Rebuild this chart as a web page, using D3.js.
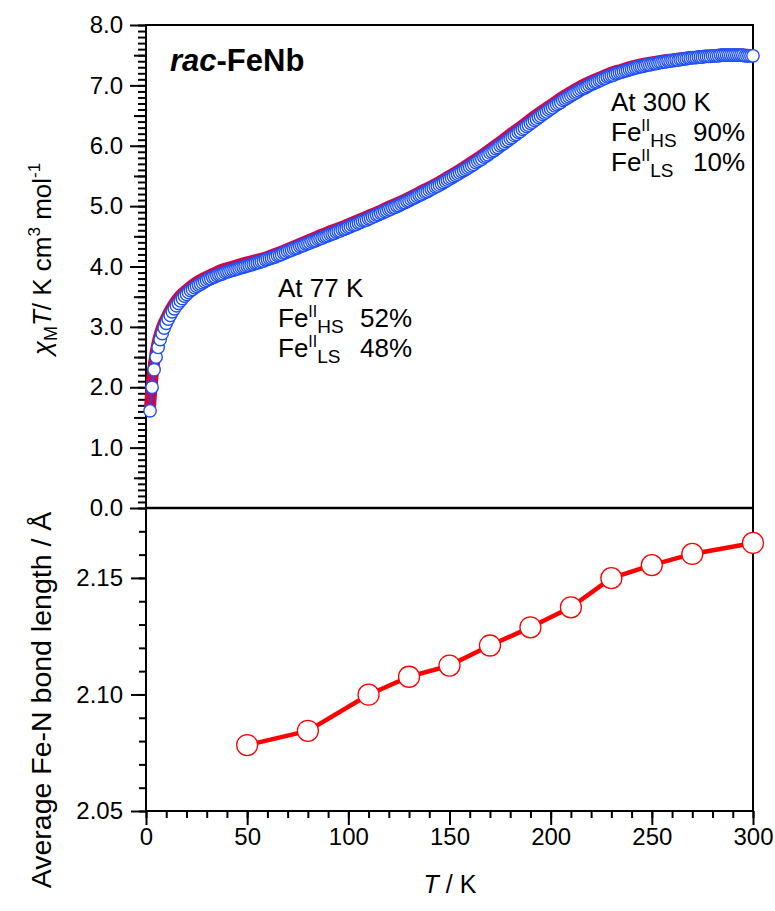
<!DOCTYPE html>
<html>
<head>
<meta charset="utf-8">
<script src="https://cdn.jsdelivr.net/npm/d3@7"></script>
<style>
  body { margin: 0; background: #fff; }
  svg { display: block; }
  text { font-family: "Liberation Sans", Arial, Helvetica, sans-serif; fill: #000; }
</style>
</head>
<body>
<svg id="chart" width="775" height="911"></svg>
<script>
// ---- chi_M T sweep, 1 K steps from 2 K to 300 K (cm3 K mol-1) ----
const chiTemps = d3.range(2, 301);
const chiTHeating = [
  1.61, 2.00, 2.29, 2.50, 2.66, 2.79, 2.89, 2.98, 3.06,
  3.13, 3.19, 3.25, 3.30, 3.35, 3.39, 3.43, 3.47, 3.51, 3.54,
  3.57, 3.60, 3.62, 3.65, 3.67, 3.69, 3.71, 3.73, 3.75, 3.77,
  3.79, 3.80, 3.82, 3.83, 3.85, 3.86, 3.87, 3.88, 3.90, 3.91,
  3.92, 3.93, 3.94, 3.95, 3.96, 3.97, 3.98, 3.99, 4.00, 4.01,
  4.02, 4.03, 4.04, 4.05, 4.06, 4.07, 4.08, 4.09, 4.11, 4.12,
  4.13, 4.14, 4.15, 4.16, 4.18, 4.19, 4.20, 4.22, 4.23, 4.25,
  4.26, 4.27, 4.29, 4.30, 4.31, 4.33, 4.34, 4.35, 4.37, 4.38,
  4.39, 4.41, 4.42, 4.43, 4.45, 4.46, 4.47, 4.49, 4.50, 4.51,
  4.53, 4.54, 4.55, 4.57, 4.58, 4.59, 4.61, 4.62, 4.63, 4.65,
  4.66, 4.68, 4.69, 4.70, 4.72, 4.73, 4.75, 4.76, 4.77, 4.79,
  4.80, 4.82, 4.83, 4.85, 4.86, 4.88, 4.89, 4.91, 4.92, 4.94,
  4.95, 4.97, 4.98, 5.00, 5.01, 5.03, 5.05, 5.06, 5.08, 5.09,
  5.11, 5.13, 5.14, 5.16, 5.18, 5.19, 5.21, 5.23, 5.24, 5.26,
  5.28, 5.30, 5.32, 5.33, 5.35, 5.37, 5.39, 5.41, 5.43, 5.45,
  5.47, 5.49, 5.51, 5.53, 5.55, 5.57, 5.59, 5.61, 5.63, 5.65,
  5.67, 5.69, 5.72, 5.74, 5.76, 5.78, 5.81, 5.83, 5.85, 5.88,
  5.90, 5.92, 5.95, 5.97, 6.00, 6.02, 6.04, 6.07, 6.09, 6.12,
  6.14, 6.17, 6.19, 6.22, 6.24, 6.27, 6.29, 6.32, 6.34, 6.37,
  6.39, 6.42, 6.44, 6.47, 6.49, 6.52, 6.54, 6.56, 6.59, 6.61,
  6.63, 6.66, 6.68, 6.70, 6.72, 6.75, 6.77, 6.79, 6.81, 6.83,
  6.85, 6.87, 6.89, 6.91, 6.93, 6.95, 6.96, 6.98, 7.00, 7.02,
  7.03, 7.05, 7.06, 7.08, 7.09, 7.11, 7.12, 7.14, 7.15, 7.16,
  7.17, 7.19, 7.20, 7.21, 7.22, 7.23, 7.24, 7.25, 7.26, 7.27,
  7.28, 7.29, 7.30, 7.31, 7.31, 7.32, 7.33, 7.34, 7.34, 7.35,
  7.36, 7.36, 7.37, 7.38, 7.38, 7.39, 7.39, 7.40, 7.40, 7.41,
  7.41, 7.42, 7.42, 7.43, 7.43, 7.44, 7.44, 7.45, 7.45, 7.46,
  7.46, 7.46, 7.47, 7.47, 7.47, 7.48, 7.48, 7.48, 7.48, 7.49,
  7.49, 7.49, 7.49, 7.50, 7.50, 7.50, 7.50, 7.50, 7.50, 7.50,
  7.50, 7.50, 7.50, 7.50, 7.50, 7.49, 7.49, 7.49, 7.49, 7.49
];

// second sweep (drawn as a band underneath)
const coolTemps = [2, 3, 4, 5, 6, 7, 8, 9, 10, 12, 14, 16, 18, 20, 25, 30, 35, 40, 45, 50,
  55, 60, 65, 70, 75, 80, 85, 90, 95, 100, 105, 110, 115, 120, 125, 130, 135, 140, 145, 150,
  155, 160, 165, 170, 175, 180, 185, 190, 195, 200, 205, 210, 215, 220, 225, 230, 235, 240,
  245, 250, 255, 260, 265, 270, 275, 280, 285, 290, 295, 300];
const chiTCooling = [1.68, 2.10, 2.40, 2.62, 2.78, 2.90, 3.00, 3.08, 3.15, 3.28, 3.39, 3.48, 3.55, 3.61, 3.74, 3.83, 3.91, 3.97, 4.02, 4.07,
  4.11, 4.16, 4.22, 4.29, 4.36, 4.43, 4.50, 4.57, 4.63, 4.70, 4.77, 4.84, 4.91, 4.99, 5.06, 5.14, 5.23, 5.31, 5.40, 5.50,
  5.60, 5.71, 5.82, 5.94, 6.06, 6.19, 6.31, 6.44, 6.56, 6.67, 6.79, 6.89, 6.99, 7.07, 7.14, 7.21, 7.26, 7.31,
  7.35, 7.38, 7.41, 7.43, 7.45, 7.47, 7.48, 7.50, 7.51, 7.51, 7.51, 7.50];

// ---- average Fe-N bond length (Å) from crystal structures ----
const bondTemps = [50, 80, 110, 130, 150, 170, 190, 210, 230, 250, 270, 300];
const bondLengths = [2.0783, 2.0844, 2.0999, 2.1076, 2.1124, 2.1210, 2.1288, 2.1374, 2.1499, 2.1555, 2.1603, 2.1650];

// ---- axis ticks ----
const xTicks = [0, 50, 100, 150, 200, 250, 300];
const chiTicks = [0, 1, 2, 3, 4, 5, 6, 7, 8];
const bondTicks = [2.05, 2.10, 2.15];

const svg = d3.select("#chart");
const plotL = 146, plotR = 753, plotT = 25, plotMid = 508, plotB = 811;

const x = d3.scaleLinear().domain([0, 300]).range([plotL, plotR]);
const yChi = d3.scaleLinear().domain([0, 8]).range([plotMid, plotT]);
const yBond = d3.scaleLinear().domain([2.05, 2.18]).range([plotB, plotMid]);

const blue = "#1e50fa", crimson = "#cc0a4a", red = "#ff0000";

// ---------- axes ----------
function styleAxis(g) {
  g.select(".domain").remove();
  g.selectAll("line").attr("stroke", "#000").attr("stroke-width", 2);
  g.selectAll("text").attr("font-size", 24).attr("fill", "#000")
    .attr("font-family", '"Liberation Sans", Arial, sans-serif');
}

// top panel y axis: minor (0.1), half (0.5) and unit ticks
svg.append("g").attr("transform", `translate(${plotL},0)`)
  .call(d3.axisLeft(yChi).tickValues(d3.range(0, 81).map(i => i / 10)).tickSize(8).tickFormat(""))
  .call(styleAxis);
svg.append("g").attr("transform", `translate(${plotL},0)`)
  .call(d3.axisLeft(yChi).tickValues(d3.range(0, 8).map(i => i + 0.5)).tickSize(12).tickFormat(""))
  .call(styleAxis);
svg.append("g").attr("transform", `translate(${plotL},0)`)
  .call(d3.axisLeft(yChi).tickValues(chiTicks).tickSize(16).tickPadding(7).tickFormat(d3.format(".1f")))
  .call(styleAxis);

// bottom panel y axis
svg.append("g").attr("transform", `translate(${plotL},0)`)
  .call(d3.axisLeft(yBond).tickValues(d3.range(205, 218).map(i => i / 100)).tickSize(7).tickFormat(""))
  .call(styleAxis);
svg.append("g").attr("transform", `translate(${plotL},0)`)
  .call(d3.axisLeft(yBond).tickValues(bondTicks).tickSize(15).tickPadding(8).tickFormat(d3.format(".2f")))
  .call(styleAxis);

// shared x axis
svg.append("g").attr("transform", `translate(0,${plotB})`)
  .call(d3.axisBottom(x).tickValues(d3.range(0, 301, 10)).tickSize(7).tickFormat(""))
  .call(styleAxis);
svg.append("g").attr("transform", `translate(0,${plotB})`)
  .call(d3.axisBottom(x).tickValues(xTicks).tickSize(14).tickPadding(3).tickFormat(d3.format("d")))
  .call(styleAxis);

// frames
const frame = svg.append("g").attr("stroke", "#000").attr("stroke-width", 2).attr("fill", "none");
frame.append("rect").attr("x", plotL).attr("y", plotT).attr("width", plotR - plotL).attr("height", plotB - plotT);
frame.append("line").attr("x1", plotL).attr("x2", plotR).attr("y1", plotMid).attr("y2", plotMid).attr("stroke-width", 2.5);

// ---------- top panel: chi_M T ----------
const chiPanel = svg.append("g");
chiPanel.append("path")
  .datum(coolTemps.map((t, i) => [t, chiTCooling[i]]))
  .attr("fill", "none").attr("stroke", crimson).attr("stroke-width", 12)
  .attr("stroke-linecap", "round").attr("stroke-linejoin", "round")
  .attr("d", d3.line().x(d => x(d[0])).y(d => yChi(d[1])).curve(d3.curveMonotoneX));

const heat = chiTemps.map((t, i) => [t, chiTHeating[i]]);
chiPanel.append("path").datum(heat)
  .attr("fill", "none").attr("stroke", blue).attr("stroke-width", 1.5)
  .attr("d", d3.line().x(d => x(d[0])).y(d => yChi(d[1])));
chiPanel.selectAll("circle").data(heat).join("circle")
  .attr("cx", d => x(d[0])).attr("cy", d => yChi(d[1])).attr("r", 6.2)
  .attr("fill", "#fff").attr("stroke", blue).attr("stroke-width", 1.4);

// ---------- bottom panel: bond length ----------
const bond = bondTemps.map((t, i) => [t, bondLengths[i]]);
const bondPanel = svg.append("g");
bondPanel.append("path").datum(bond)
  .attr("fill", "none").attr("stroke", red).attr("stroke-width", 4.5).attr("stroke-linejoin", "round")
  .attr("d", d3.line().x(d => x(d[0])).y(d => yBond(d[1])));
bondPanel.selectAll("circle").data(bond).join("circle")
  .attr("cx", d => x(d[0])).attr("cy", d => yBond(d[1])).attr("r", 10.5)
  .attr("fill", "#fff").attr("stroke", red).attr("stroke-width", 1.3);

// ---------- labels ----------
// top y title
const t1 = svg.append("text").attr("transform", "translate(51,259) rotate(-90)")
  .attr("text-anchor", "middle").attr("font-size", 26);
t1.append("tspan").attr("font-style", "italic").text("χ");
t1.append("tspan").attr("font-size", 18).attr("dy", 6).text("M");
t1.append("tspan").attr("font-style", "italic").attr("dy", -6).text("T");
t1.append("tspan").text("/ K cm");
t1.append("tspan").attr("font-size", 17).attr("dy", -11).text("3");
t1.append("tspan").attr("dy", 11).text(" mol");
t1.append("tspan").attr("font-size", 17).attr("dy", -11).text("-1");

// bottom y title
svg.append("text").attr("transform", "translate(51,700) rotate(-90)")
  .attr("text-anchor", "middle").attr("font-size", 28.5)
  .text("Average Fe-N bond length / Å");

// x title
const xt = svg.append("text").attr("x", 450).attr("y", 893).attr("text-anchor", "middle").attr("font-size", 25);
xt.append("tspan").attr("font-style", "italic").text("T");
xt.append("tspan").text(" / K");

// compound name
const nm = svg.append("text").attr("x", 170).attr("y", 71).attr("font-size", 31).attr("font-weight", "bold");
nm.append("tspan").attr("font-style", "italic").text("rac");
nm.append("tspan").text("-FeNb");

// spin-state annotations
function note(x0, y0, head, hs, ls) {
  const g = svg.append("g");
  g.append("text").attr("x", x0).attr("y", y0).attr("font-size", 26).text(head);
  [["HS", hs], ["LS", ls]].forEach(([s, v], k) => {
    const tx = g.append("text").attr("x", x0).attr("y", y0 + 30 * (k + 1)).attr("font-size", 26);
    tx.append("tspan").text("Fe");
    tx.append("tspan").attr("font-size", 16).attr("dy", -10).text("II");
    tx.append("tspan").attr("font-size", 19).attr("dy", 16).text(s);
    tx.append("tspan").attr("x", x0 + 82).attr("dy", -6).text(v);
  });
}
note(278, 297, "At 77 K", "52%", "48%");
note(611, 111, "At 300 K", "90%", "10%");
</script>
</body>
</html>
